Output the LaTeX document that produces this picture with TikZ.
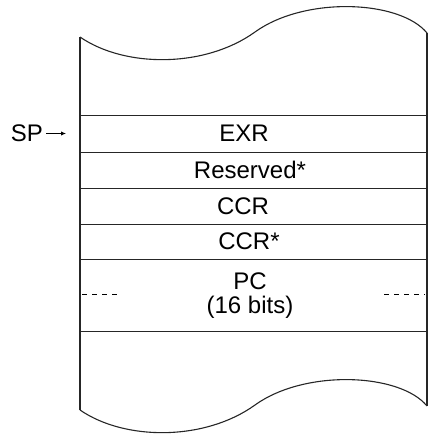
\documentclass[tikz,border=0pt]{standalone}
\usepackage{fontspec}
\setmainfont{Liberation Sans}
\usetikzlibrary{arrows.meta}
\begin{document}
\begin{tikzpicture}[x=1pt,y=-1pt,
  frame/.style={line width=1.1pt,draw=black!85},
  rowline/.style={line width=0.9pt,draw=black!85},
  lbl/.style={inner sep=0pt,anchor=center,font=\fontsize{24}{28}\selectfont},
  dashline/.style={line width=0.9pt,dash pattern=on 5pt off 5pt}]
\useasboundingbox (0,0) rectangle (433,434);
% top wave
\draw[frame] (80,37) .. controls (125,68) and (205,68) .. (255,32)
  .. controls (305,-4) and (400,0) .. (427,33);
% bottom wave
\draw[frame] (80,410) .. controls (125,441) and (205,441) .. (255,405)
  .. controls (305,369) and (400,373) .. (427,406);
% sides
\draw[frame] (80,37) -- (80,410);
\draw[frame] (427,33) -- (427,406);
% rows
\foreach \yy in {115,152,188,224,259,331}
  \draw[rowline] (80,\yy) -- (427,\yy);
% labels
\node[lbl] (exr) at (244,133.5) {EXR};
\node[lbl] (res) at (250,170) {Reserved*};
\node[lbl] (ccr) at (243,206) {CCR};
\node[lbl] (ccrs) at (249,241.5) {CCR*};
\node[lbl] (pc) at (250,281) {PC};
\node[lbl] (bits) at (250,307) {(16 bits)};
% dashes
\draw[dashline] (82,294.5) -- (120,294.5);
\draw[dashline] (384,294.5) -- (425,294.5);
% SP arrow
\node[lbl,anchor=east] (sp) at (43,133.5) {SP};
\coordinate (spend) at (66,133.5);
\draw[line width=0.9pt,-{Latex[length=5pt,width=4.5pt]}] (sp.east) ++(3,0) -- (spend);
\end{tikzpicture}
\end{document}
